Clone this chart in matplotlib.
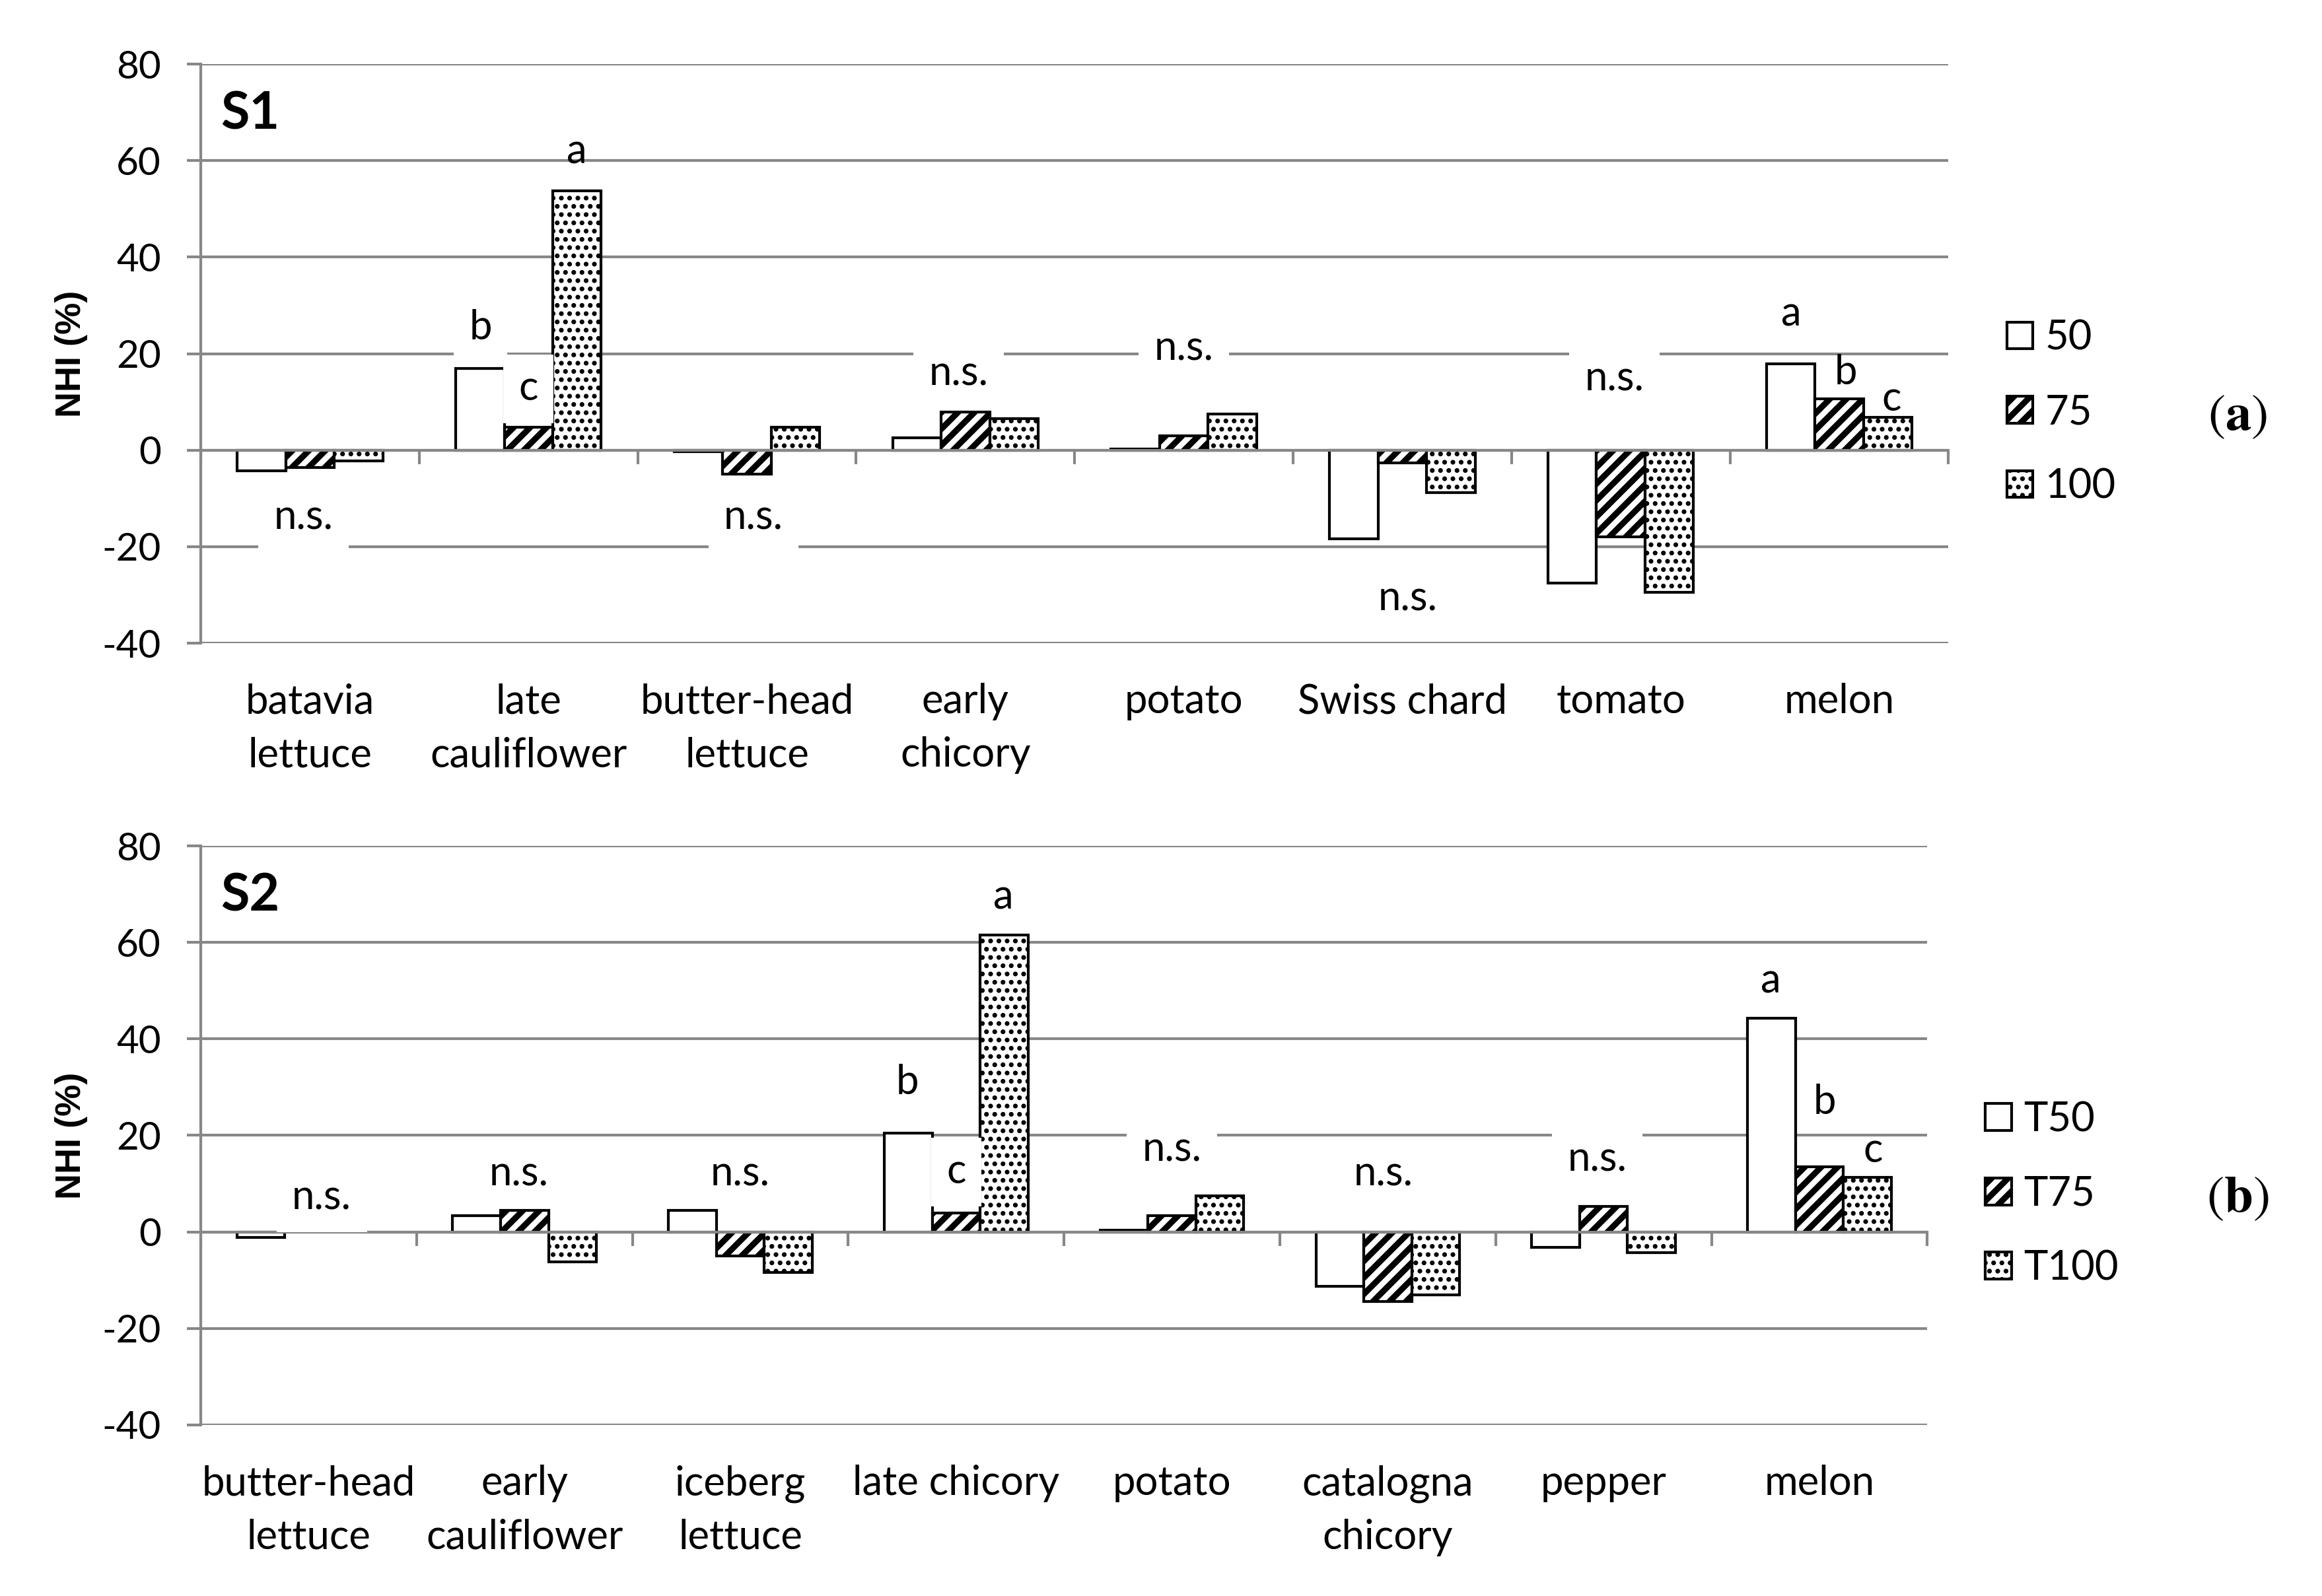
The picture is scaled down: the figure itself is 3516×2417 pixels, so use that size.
import numpy as np
import matplotlib.pyplot as plt
from matplotlib.transforms import blended_transform_factory

plt.rcParams["axes.unicode_minus"] = False

# ---- data ----
s1_crops = ["batavia\nlettuce", "late\ncauliflower", "butter-head\nlettuce", "early\nchicory",
            "potato", "Swiss chard", "tomato", "melon"]
s1_50 = [-4.3, 16.9, -0.3, 2.5, 0.3, -18.4, -27.5, 17.9]
s1_75 = [-3.6, 4.8, -4.9, 7.9, 3.0, -2.6, -18.0, 10.6]
s1_100 = [-2.2, 53.7, 4.8, 6.6, 7.5, -8.8, -29.4, 6.8]

s2_crops = ["butter-head\nlettuce", "early\ncauliflower", "iceberg\nlettuce", "late chicory",
            "potato", "catalogna\nchicory", "pepper", "melon"]
s2_50 = [-1.1, 3.4, 4.5, 20.5, 0.3, -11.3, -3.2, 44.3]
s2_75 = [np.nan, 4.5, -4.95, 3.9, 3.3, -14.4, 5.3, 13.45]
s2_100 = [np.nan, -6.2, -8.4, 61.5, 7.5, -13.0, -4.3, 11.3]

s1_series = ["50", "75", "100"]
s2_series = ["T50", "T75", "T100"]

# significance letters: text, category, shift inside group, height, white box
s1_sig_text = ["n.s.", "b", "c", "a", "n.s.", "n.s.", "n.s.", "n.s.", "n.s.", "a", "b", "c"]
s1_sig_cat = [0, 1, 1, 1, 2, 3, 4, 5, 6, 7, 7, 7]
s1_sig_dx = [-0.03, -0.22, 0.0, 0.22, 0.03, -0.03, 0.0, 0.025, -0.03, -0.22, 0.03, 0.24]
s1_sig_y = [-14.0, 25.3, 12.7, 61.8, -14.0, 15.8, 21.0, -30.8, 14.7, 28.2, 16.1, 10.6]
s1_sig_box = [1, 1, 1, 0, 1, 1, 1, 1, 1, 0, 0, 0]

s2_sig_text = ["n.s.", "n.s.", "n.s.", "b", "c", "a", "n.s.", "n.s.", "n.s.", "a", "b", "c"]
s2_sig_cat = [0, 1, 2, 3, 3, 3, 4, 5, 6, 7, 7, 7]
s2_sig_dx = [0.06, -0.025, 0.0, -0.226, 0.0, 0.22, 0.0, -0.02, -0.03, -0.225, 0.025, 0.25]
s2_sig_y = [7.1, 12.0, 12.0, 31.0, 12.4, 69.3, 17.1, 12.0, 15.0, 52.0, 26.8, 16.8]
s2_sig_box = [1, 1, 1, 1, 1, 0, 1, 1, 1, 0, 0, 0]

FONT = "Lato"
FS = 14.8      # category names, letters, legend
FS_TICK = 14
GRID = "#878787"
hatches = ["", "////", "...."]
hatch_lw = [1.0, 2.2, 1.1]


def draw_panel(ax, crops, series_vals, series_names, sig, tag):
    x = np.arange(len(crops))
    w = 0.222
    for k, vals in enumerate(series_vals):
        with plt.rc_context({"hatch.linewidth": hatch_lw[k]}):
            bars = ax.bar(x + (k - 1) * w, vals, w, facecolor="white", edgecolor="black",
                          linewidth=1.0, hatch=hatches[k], label=series_names[k], zorder=2)
        for p in bars:
            if hasattr(p, "set_hatch_linewidth"):
                p.set_hatch_linewidth(hatch_lw[k])

    ax.set_xlim(-0.5, len(crops) - 0.5)
    ax.set_ylim(-40, 80)
    ax.set_yticks(range(-40, 81, 20))
    ax.set_axisbelow(True)
    ax.yaxis.grid(True, color=GRID, linewidth=1.0)
    for s in ["top", "right"]:
        ax.spines[s].set_visible(False)
    ax.spines["left"].set_color(GRID)
    ax.spines["left"].set_linewidth(1.0)
    ax.spines["bottom"].set_position(("data", 0))
    ax.spines["bottom"].set_color(GRID)
    ax.spines["bottom"].set_linewidth(1.0)
    ax.spines["bottom"].set_zorder(3)
    ax.set_xticks(np.arange(-0.5, len(crops), 1.0))
    ax.set_xticklabels([])
    ax.tick_params(axis="x", direction="out", length=5, width=1.0, color=GRID)
    ax.tick_params(axis="y", direction="out", length=5, width=1.0, color=GRID,
                   pad=9.5, labelsize=FS_TICK)
    for t in ax.get_yticklabels():
        t.set_fontfamily(FONT)

    trans = blended_transform_factory(ax.transData, ax.transAxes)
    for i, name in enumerate(crops):
        ax.annotate(name, xy=(i, 0), xycoords=trans, xytext=(0, -14.5),
                    textcoords="offset points", ha="center", va="top",
                    fontsize=FS, fontfamily=FONT, linespacing=1.52)

    txt, cat, dx, yy, box = sig
    for t, c, d, v, b in zip(txt, cat, dx, yy, box):
        kw = {}
        if b:
            kw["bbox"] = dict(boxstyle="square,pad=0.38", facecolor="white", edgecolor="none")
        ax.text(c + d, v, t, ha="center", va="center", fontsize=FS, fontfamily=FONT,
                zorder=4, **kw)

    ax.text(0.0115, 0.9125, tag, transform=ax.transAxes, ha="left", va="center",
            fontsize=19, fontweight="bold", fontfamily=FONT)


fig = plt.figure(figsize=(11.72, 8.0567), dpi=300)
ax1 = fig.add_axes([0.0865, 0.597, 0.7526, 0.3628])
ax2 = fig.add_axes([0.0865, 0.1072, 0.7435, 0.3628])

draw_panel(ax1, s1_crops, [s1_50, s1_75, s1_100], s1_series,
           (s1_sig_text, s1_sig_cat, s1_sig_dx, s1_sig_y, s1_sig_box), "S1")
draw_panel(ax2, s2_crops, [s2_50, s2_75, s2_100], s2_series,
           (s2_sig_text, s2_sig_cat, s2_sig_dx, s2_sig_y, s2_sig_box), "S2")

for ax, lx, ly, panel in [(ax1, 0.8643, 0.7415, "a"), (ax2, 0.855, 0.2518, "b")]:
    handles, labels = ax.get_legend_handles_labels()
    leg = ax.legend(handles, labels, loc="center left", bbox_to_anchor=(lx, ly),
                    bbox_transform=fig.transFigure, frameon=False, borderpad=0,
                    borderaxespad=0, handlelength=0.64, handleheight=0.64,
                    handletextpad=0.3, labelspacing=0.9,
                    prop={"family": FONT, "size": FS})
    for p, lw in zip(leg.get_patches(), hatch_lw):
        if hasattr(p, "set_hatch_linewidth"):
            p.set_hatch_linewidth(lw)
    fig.text(0.9636, 0.7398 if panel == "a" else 0.2499, r"$(\mathbf{%s})$" % panel,
             math_fontfamily="stix", fontsize=19, ha="center", va="center")
    pos = ax.get_position()
    fig.text(0.0308, pos.y0 + pos.height / 2, "NHI (%)", rotation=90, ha="center",
             va="center", fontsize=13, fontweight="bold", fontfamily="Liberation Sans")

fig.savefig("out.png", dpi=300, facecolor="white")
